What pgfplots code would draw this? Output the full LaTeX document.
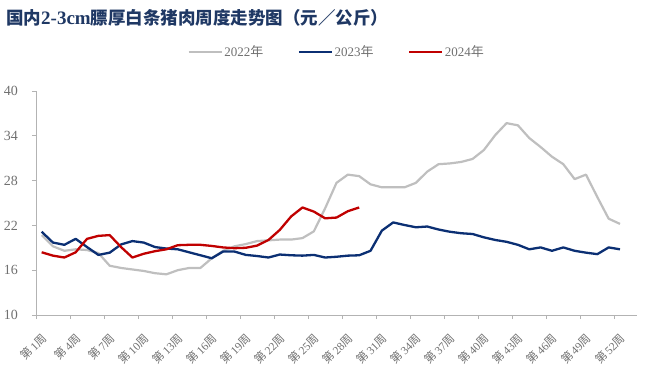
\documentclass[border=0pt]{standalone}
\usepackage{fontspec}
\setmainfont{Liberation Serif}
\newfontfamily\cjk{Noto Sans CJK SC}
\usepackage{pgfplots}
\pgfplotsset{compat=1.18}
\definecolor{c22}{HTML}{BFBFBF}
\definecolor{c23}{HTML}{0B2F73}
\definecolor{c24}{HTML}{C00000}
\definecolor{axc}{HTML}{B3B3B3}
\definecolor{txt}{HTML}{707070}
\definecolor{ttl}{HTML}{1F3864}
\newcommand\wk[1]{{\cjk 第}\,#1{\cjk 周}}

\pgfplotstableread{
w v
1 20.7
2 19.2
3 18.6
4 18.8
5 18.7
6 18.3
7 16.6
8 16.3
9 16.1
10 15.9
11 15.6
12 15.45
13 16.0
14 16.3
15 16.3
16 17.6
17 18.6
18 19.2
19 19.5
20 19.9
21 20.0
22 20.1
23 20.1
24 20.3
25 21.2
26 24.3
27 27.7
28 28.8
29 28.6
30 27.5
31 27.1
32 27.1
33 27.1
34 27.7
35 29.2
36 30.2
37 30.3
38 30.5
39 30.9
40 32.1
41 34.1
42 35.7
43 35.4
44 33.7
45 32.5
46 31.2
47 30.2
48 28.2
49 28.8
50 25.8
51 22.9
52 22.2
}\tbA

\pgfplotstableread{
w v
1 21.15
2 19.7
3 19.4
4 20.2
5 19.1
6 18.05
7 18.35
8 19.45
9 19.9
10 19.7
11 19.1
12 18.9
13 18.8
14 18.4
15 18.0
16 17.6
17 18.5
18 18.5
19 18.05
20 17.9
21 17.7
22 18.1
23 18.0
24 17.95
25 18.05
26 17.7
27 17.8
28 17.95
29 18.0
30 18.6
31 21.3
32 22.4
33 22.05
34 21.75
35 21.85
36 21.45
37 21.15
38 20.95
39 20.85
40 20.4
41 20.05
42 19.8
43 19.4
44 18.8
45 19.05
46 18.6
47 19.05
48 18.6
49 18.35
50 18.15
51 19.05
52 18.8
}\tbB

\pgfplotstableread{
w v
1 18.4
2 17.95
3 17.7
4 18.4
5 20.2
6 20.6
7 20.7
8 19.1
9 17.7
10 18.2
11 18.55
12 18.8
13 19.35
14 19.4
15 19.4
16 19.25
17 19.05
18 18.95
19 19.0
20 19.3
21 20.05
22 21.4
23 23.2
24 24.4
25 23.85
26 22.95
27 23.05
28 23.9
29 24.4
}\tbC

\begin{document}
\begin{tikzpicture}
\path[use as bounding box] (-36pt,-58pt) rectangle (624pt,315pt);
\begin{axis}[
  scale only axis, width=601pt, height=224pt,
  at={(0pt,0pt)}, anchor=south west,
  xmin=0.5, xmax=53.5, ymin=10, ymax=40,
  axis x line*=bottom, axis y line*=left,
  axis line style={draw=axc, line width=0.8pt},
  ytick={10,16,...,40},
  xtick={0.5,3.5,...,51.5},
  xticklabels={\wk{1},\wk{4},\wk{7},\wk{10},\wk{13},\wk{16},\wk{19},\wk{22},\wk{25},\wk{28},\wk{31},\wk{34},\wk{37},\wk{40},\wk{43},\wk{46},\wk{49},\wk{52}},
  tick align=outside,
  major tick length=4pt,
  tick style={draw=axc, line width=0.8pt},
  /pgf/number format/assume math mode=true,
  yticklabel style={font=\fontsize{14}{14}\selectfont, text=txt, inner sep=0pt, xshift=-14pt},
  xticklabel style={font=\fontsize{11.5}{11.5}\selectfont, text=txt, inner sep=0pt, xshift=8.5pt, yshift=-17pt, rotate=45, anchor=east},
  legend style={at={(0.5,1.174)}, anchor=center, draw=none, fill=none,
    font=\fontsize{13}{13}\selectfont, text=txt, legend columns=3,
    nodes={inner sep=1.5pt},
    /tikz/every even column/.append style={column sep=33pt}},
  legend image code/.code={\draw[#1] (0pt,0pt) -- (33pt,0pt);},
  clip=false,
]
\addplot[c22, line width=2.2pt, line join=round] table[x=w,y=v] {\tbA};
\addlegendentry{2022{\cjk 年}}
\addplot[c23, line width=2.3pt, line join=round] table[x=w,y=v] {\tbB};
\addlegendentry{2023{\cjk 年}}
\addplot[c24, line width=2.3pt, line join=round] table[x=w,y=v] {\tbC};
\addlegendentry{2024{\cjk 年}}
\end{axis}
\node[anchor=west, text=ttl, inner sep=0pt, font=\fontsize{17.5}{19}\selectfont] at (-30pt,297pt)
  {{\cjk\bfseries 国内}{\fontsize{19}{19}\selectfont\bfseries 2-3cm}{\cjk\bfseries 膘厚白条猪肉周度走势图（元／公斤）}};
\end{tikzpicture}
\end{document}
